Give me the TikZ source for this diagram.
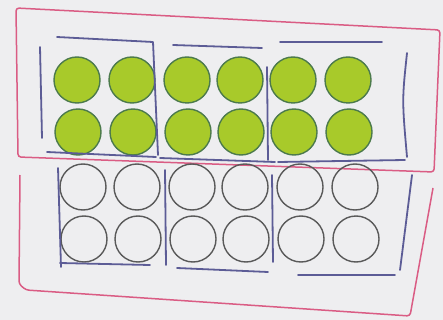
\documentclass[tikz,border=0pt]{standalone}
\usepackage{xcolor}
\usepackage{tikz}

\definecolor{rosa}{RGB}{218,92,132}
\definecolor{azul}{RGB}{92,92,150}
\definecolor{verde}{RGB}{168,202,42}
\definecolor{papel}{RGB}{238,238,240}

\begin{document}
\begin{tikzpicture}[x=1pt, y=-1pt,
        bola/.style={circle, draw=gray!70!black, line width=1.4pt, minimum size=46pt, inner sep=0pt},
        cheia/.style={bola, draw=black!55!green!40!gray, fill=verde},
        borda/.style={draw=rosa, line width=1.5pt, line join=round, rounded corners=3pt},
        traco/.style={draw=azul, line width=1.8pt, line cap=round, line join=round}
    ]
        \fill[papel] (0,0) rectangle (443,320);
        \useasboundingbox (0,0) rectangle (443,320);

        % caixas rosa
        \draw[borda] (16,8) -- (440,30) -- (434,172) -- (18,157) -- cycle;
        \draw[borda] (20,175) -- (19,284) -- (26,290) -- (410,316) -- (433,188);

        % bolas cheias (em cima) e vazias (em baixo)
        \foreach \x [count=\i] in {77,132,187,240,293,348} {
            \node[cheia] (c-1-\i) at (\x,80) {};
            \node[cheia] (c-2-\i) at (\x+1,132) {};
        }
        \foreach \x [count=\i] in {83,137,192,245,300,355} {
            \node[bola] (v-1-\i) at (\x,187) {};
            \node[bola] (v-2-\i) at (\x+1,239) {};
        }

        % grupos de dez em cima
        \draw[traco] (40,47) -- (42,138);
        \draw[traco] (57,37) -- (153,42) -- (158,155);
        \draw[traco] (47,152) -- (156,157);
        \draw[traco] (173,45) -- (262,48);
        \draw[traco] (267,67) -- (268,160);
        \draw[traco] (160,158) -- (275,162);
        \draw[traco] (280,42) -- (382,42);
        \draw[traco] (407,53) .. controls (402,100) .. (407,157);
        \draw[traco] (278,162) -- (405,160);

        % grupos de dez em baixo
        \draw[traco] (58,168) -- (61,267);
        \draw[traco] (60,263) -- (150,265);
        \draw[traco] (165,170) -- (166,265);
        \draw[traco] (177,268) -- (268,272);
        \draw[traco] (272,175) -- (273,262);
        \draw[traco] (298,275) -- (395,275);
        \draw[traco] (412,175) -- (400,270);
    \end{tikzpicture}
\end{document}
